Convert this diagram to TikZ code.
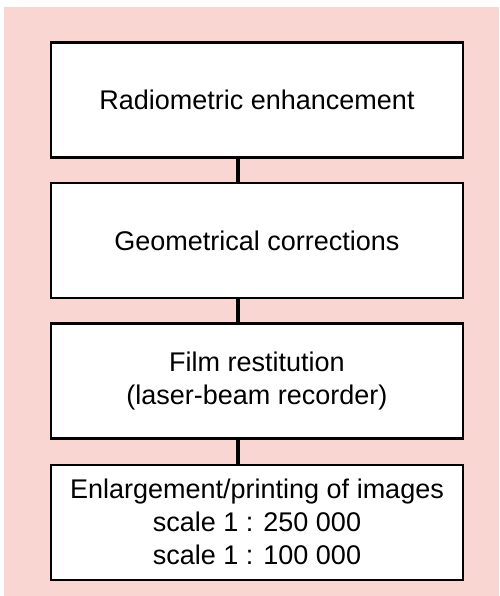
\documentclass[tikz,border=0pt]{standalone}
\usepackage{fontspec}
\setmainfont{Liberation Sans}
\usepackage{tikz}
\usetikzlibrary{positioning}
\definecolor{bgpink}{RGB}{250,214,210}
\tikzstyle{stage}=[rectangle, draw=black, fill=white, line width=2.4pt, minimum width=412pt, minimum height=115pt, align=center, inner sep=0pt, font=\fontsize{27}{33}\selectfont]
\tikzstyle{link}=[line width=4.5pt]

\begin{document}
\begin{tikzpicture}[x=1pt, y=1pt]
        % Background
        \useasboundingbox (0, 0) rectangle (499, -596);
        \fill [bgpink] (4, -7) rectangle (499, -596);

        % Boxes
        \node at (257, -100) [stage] (radio) {Radiometric enhancement};
        \node [stage, below=23pt of radio] (geom) {Geometrical corrections};
        \node [stage, below=23pt of geom] (film) {Film restitution\\(laser-beam recorder)};
        \node [stage, below=24pt of film] (print) {Enlargement/printing of images\\scale 1 : 250 000\\scale 1 : 100 000};

        % Links
        \draw [link] ([xshift=-19pt]radio.south) -- ([xshift=-19pt]geom.north);
        \draw [link] ([xshift=-19pt]geom.south) -- ([xshift=-19pt]film.north);
        \draw [link] ([xshift=-19pt]film.south) -- ([xshift=-19pt]print.north);
\end{tikzpicture}
\end{document}
